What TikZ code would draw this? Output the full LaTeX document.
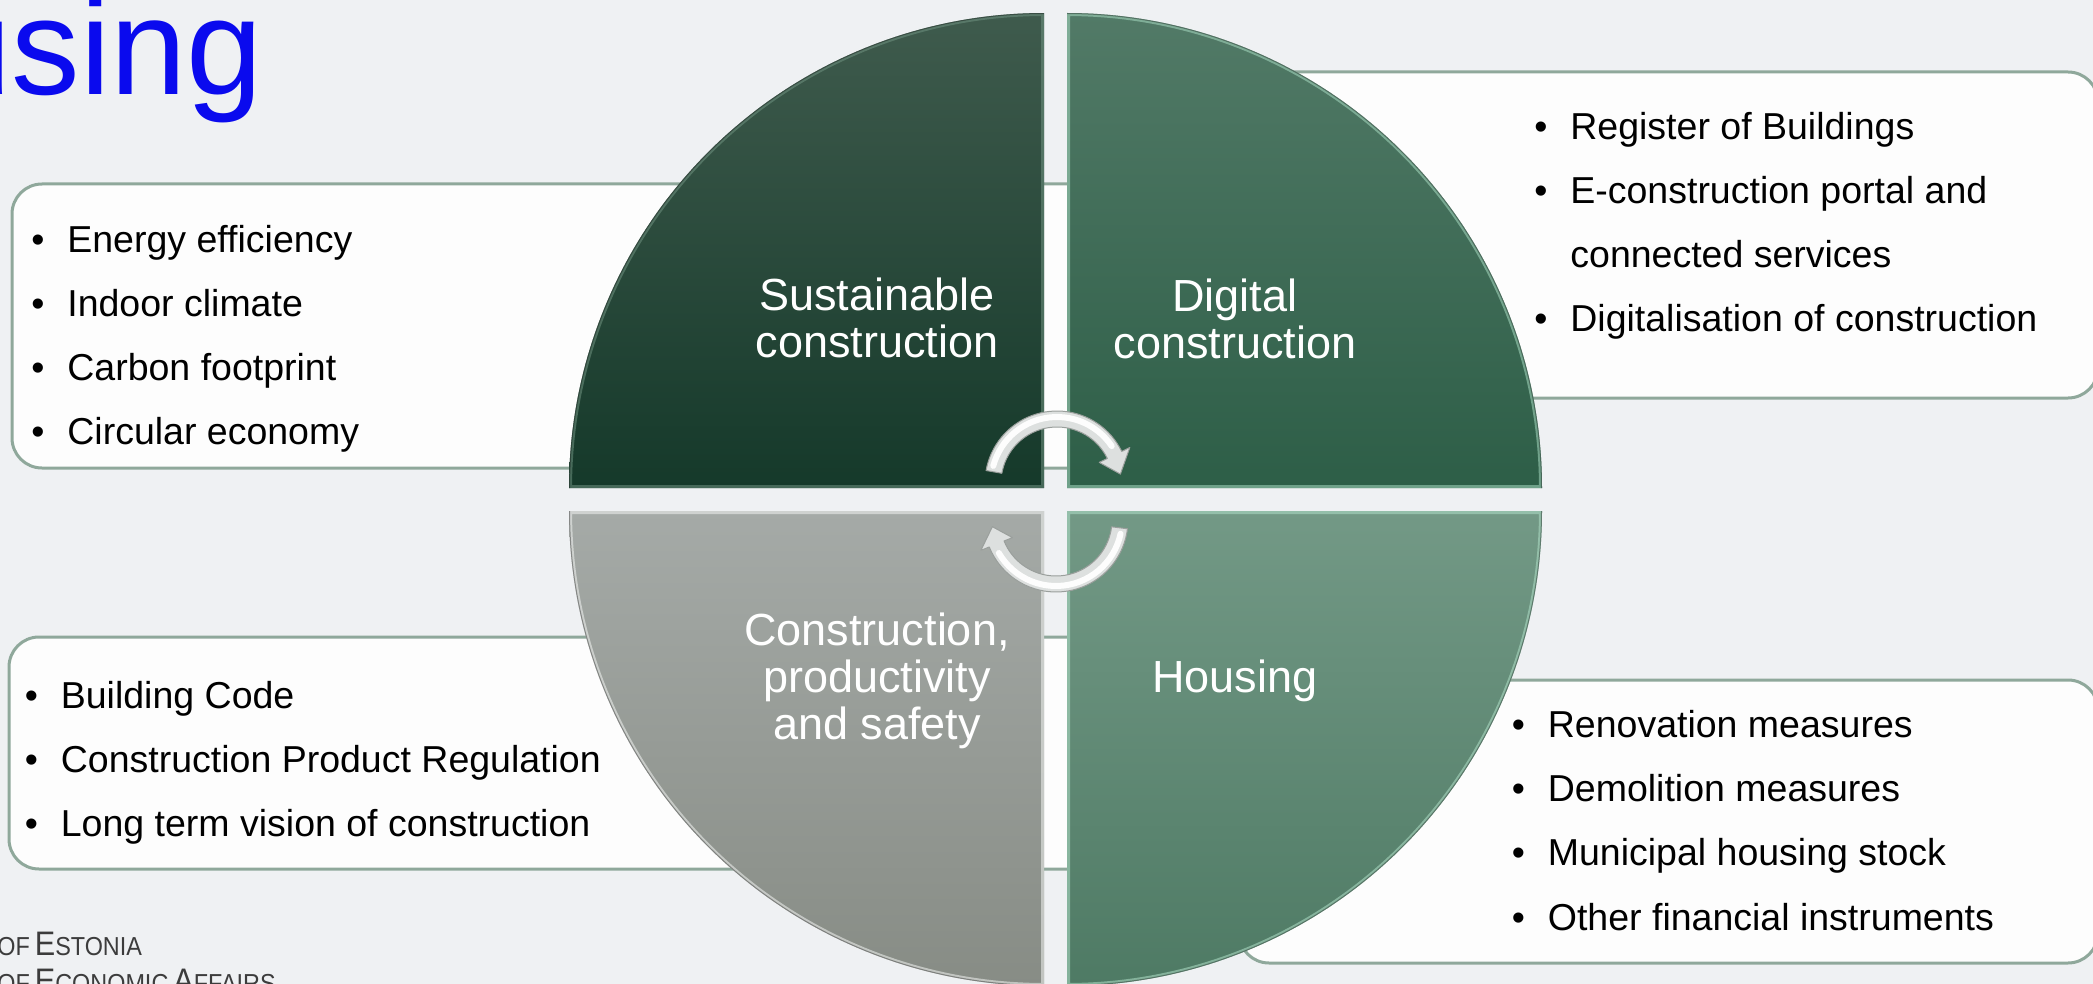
\documentclass[tikz,border=0pt]{standalone}
\usepackage{graphicx}
\usepackage{fontspec}
\setmainfont{Liberation Sans}

\definecolor{pagebg}{HTML}{EFF1F3}
\definecolor{boxfill}{HTML}{FDFDFD}
\definecolor{boxline}{HTML}{8FA89B}
\definecolor{titleblue}{HTML}{0A0AEE}
\definecolor{orggray}{HTML}{3C3C3C}
\definecolor{tlTop}{HTML}{3F5B4D}
\definecolor{tlBot}{HTML}{15392A}
\definecolor{tlHi}{HTML}{6F9280}
\definecolor{trTop}{HTML}{527A67}
\definecolor{trBot}{HTML}{2D5E47}
\definecolor{trHi}{HTML}{A6D9C0}
\definecolor{brTop}{HTML}{739986}
\definecolor{brBot}{HTML}{4E7A64}
\definecolor{brHi}{HTML}{B0E0C8}
\definecolor{blTop}{HTML}{A5AAA7}
\definecolor{blBot}{HTML}{878C85}
\definecolor{blHi}{HTML}{F2F4F2}
\definecolor{arrowfill}{HTML}{DDE0DF}
\definecolor{arrowline}{HTML}{9A9F9C}

% bullet column of the item lists
\newcommand\itembul{\makebox[18pt][l]{\textbullet}}
\newcommand\itemgap{\makebox[18pt]{}}
% small capitals made by hand, set a little narrow
\newcommand\orgsmall[1]{{\fontsize{13pt}{15pt}\selectfont #1}}
\newcommand\orglarge[1]{{\fontsize{17pt}{19pt}\selectfont #1}}
\newcommand\orgline[1]{\scalebox{0.9}[1]{#1}}

\begin{document}
\begin{tikzpicture}[x=0.5pt,y=-0.5pt,
  infobox/.style={fill=boxfill,draw=boxline,line width=1.5pt,rounded corners=15pt},
  itemlist/.style={anchor=north west,inner sep=0pt,align=left,text=black,
    font=\fontsize{18.75pt}{32.1pt}\selectfont},
  quadlabel/.style={inner sep=0pt,align=center,text=white,
    font=\fontsize{22.5pt}{23.5pt}\selectfont},
  cyclearrow/.style={fill=arrowfill,draw=arrowline,line width=0.5pt,line join=round},
  arrowshine/.style={white,line width=3pt,opacity=0.95,line cap=round}]
\useasboundingbox (0,0) rectangle (2093,984);
\clip (0,0) rectangle (2093,984);
\fill[pagebg] (0,0) rectangle (2093,984);

% heading, running off the left edge
\node[anchor=base west,inner sep=0pt,text=titleblue,
  font=\fontsize{68.5pt}{70pt}\selectfont] (heading) at (-65,95) {using};

% ministry lines at the lower left
\node[anchor=base west,inner sep=0pt,text=orggray] (orgA) at (-3,955)
  {\orgline{\orgsmall{OF} \orglarge{E}\orgsmall{STONIA}}};
\node[anchor=base west,inner sep=0pt,text=orggray] (orgB) at (-3,992)
  {\orgline{\orgsmall{OF} \orglarge{E}\orgsmall{CONOMIC} \orglarge{A}\orgsmall{FFAIRS}}};

% text boxes behind the circle
\draw[infobox] (12,184) rectangle (1200,468);
\draw[infobox] (1240,72) rectangle (2098,398);
\draw[infobox] (9,637) rectangle (1200,869);
\draw[infobox] (1239,680) rectangle (2098,963);

% item lists
\node[itemlist] (listSus) at (31,224.5)
  {\itembul Energy efficiency\\\itembul Indoor climate\\\itembul Carbon footprint\\\itembul Circular economy};
\node[itemlist] (listDig) at (1534,111.5)
  {\itembul Register of Buildings\\\itembul E-construction portal and\\\itemgap connected services\\\itembul Digitalisation of construction};
\node[itemlist] (listProd) at (24.5,680.5)
  {\itembul Building Code\\\itembul Construction Product Regulation\\\itembul Long term vision of construction};
\node[itemlist] (listHou) at (1511.5,710)
  {\itembul Renovation measures\\\itembul Demolition measures\\\itembul Municipal housing stock\\\itembul Other financial instruments};

% the four quarters of the circle
\foreach \cx/\cy/\a/\b/\ct/\cb/\ch in {1044/488/180/270/tlTop/tlBot/tlHi,
    1067/488/270/360/trTop/trBot/trHi, 1067/511/0/90/brTop/brBot/brHi,
    1044/511/90/180/blTop/blBot/blHi}{
  \shade[top color=\ct,bottom color=\cb] (\cx,\cy) --
    plot[variable=\t,domain=\a:\b,samples=90] ({\cx+475*cos(\t)},{\cy+475*sin(\t)}) -- cycle;
  \begin{scope}
    \clip (\cx,\cy) --
      plot[variable=\t,domain=\a:\b,samples=90] ({\cx+475*cos(\t)},{\cy+475*sin(\t)}) -- cycle;
    \draw[\ch,line width=3pt,opacity=0.55] (\cx,\cy) --
      plot[variable=\t,domain=\a:\b,samples=90] ({\cx+475*cos(\t)},{\cy+475*sin(\t)}) -- cycle;
    \draw[black,opacity=0.35,line width=1pt]
      plot[variable=\t,domain=\a:\b,samples=90] ({\cx+475*cos(\t)},{\cy+475*sin(\t)});
  \end{scope}
}

% quarter titles
\node[quadlabel,anchor=north] (lblSus) at (877,277.5) {Sustainable\\construction};
\node[quadlabel,anchor=north] (lblDig) at (1235,278) {Digital\\construction};
\node[quadlabel,anchor=north] (lblProd) at (877,612) {Construction,\\productivity\\and safety};
\node[quadlabel,anchor=base] (lblHou) at (1235,692) {Housing};

% cycle arrows over the centre
\path[cyclearrow]
  plot[variable=\t,domain=190:334,samples=40] ({1057+72*cos(\t)},{483+72*sin(\t)})
  -- ({1057+81*cos(334)},{483+81*sin(334)})
  -- ({1057+64*cos(352)},{483+64*sin(352)})
  -- ({1057+47*cos(334)},{483+47*sin(334)})
  -- plot[variable=\t,domain=334:190,samples=40] ({1057+56*cos(\t)},{483+56*sin(\t)})
  -- cycle;
\draw[arrowshine]
  plot[variable=\t,domain=195:326,samples=30] ({1057+66*cos(\t)},{483+66*sin(\t)});

\path[cyclearrow]
  plot[variable=\t,domain=7:158,samples=40] ({1056+72*cos(\t)},{520+72*sin(\t)})
  -- ({1056+81*cos(158)},{520+81*sin(158)})
  -- ({1056+64*cos(174)},{520+64*sin(174)})
  -- ({1056+47*cos(158)},{520+47*sin(158)})
  -- plot[variable=\t,domain=158:7,samples=40] ({1056+56*cos(\t)},{520+56*sin(\t)})
  -- cycle;
\draw[arrowshine]
  plot[variable=\t,domain=12:150,samples=30] ({1056+66*cos(\t)},{520+66*sin(\t)});
\end{tikzpicture}
\end{document}
